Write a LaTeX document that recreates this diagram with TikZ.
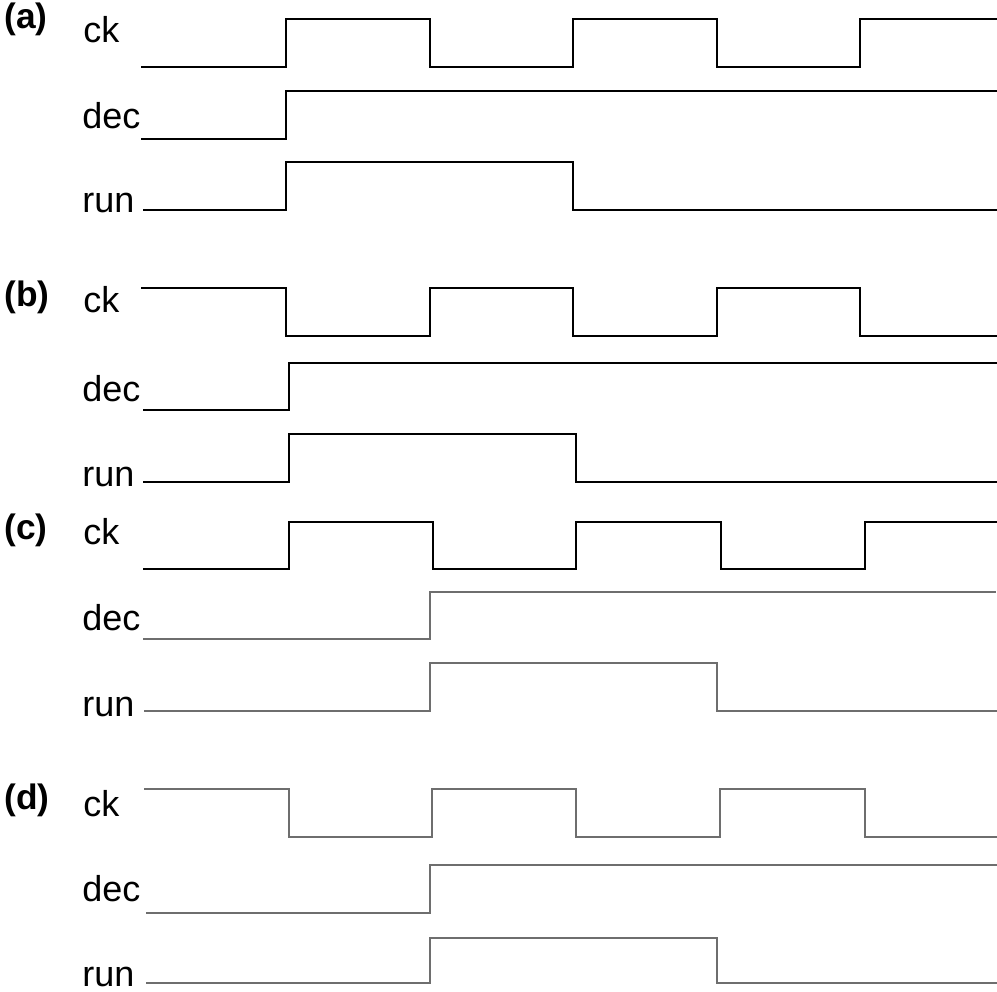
\documentclass[tikz,border=0pt]{standalone}
\usepackage{fontspec}
\setmainfont{Liberation Sans}
\definecolor{wgray}{HTML}{6E6E6E}
\begin{document}
\begin{tikzpicture}[x=0.75pt,y=-0.75pt,
  wave/.style={line width=1.5pt,black},
  gwave/.style={line width=1.5pt,wgray},
  sig/.style={anchor=base west,inner sep=0pt,font=\fontsize{27}{30}\selectfont},
  tag/.style={anchor=base west,inner sep=0pt,font=\fontsize{26.5}{30}\selectfont\bfseries}]
\useasboundingbox (0,0) rectangle (997,992);
% labels
\node[tag] (ta) at (4,28) {(a)};
\node[sig] (ack) at (83,42) {ck};
\node[sig] (adec) at (82,128) {dec};
\node[sig] (arun) at (82,212) {run};
\node[tag] (tb) at (4,306) {(b)};
\node[sig] (bck) at (83,312) {ck};
\node[sig] (bdec) at (82,401) {dec};
\node[sig] (brun) at (82,486) {run};
\node[tag] (tc) at (4,539) {(c)};
\node[sig] (cck) at (83,544) {ck};
\node[sig] (cdec) at (82,630) {dec};
\node[sig] (crun) at (82,716) {run};
\node[tag] (td) at (4,809) {(d)};
\node[sig] (dck) at (83,816) {ck};
\node[sig] (ddec) at (82,901) {dec};
\node[sig] (drun) at (82,986) {run};
% (a)
\draw[wave] (141,67) -- (286,67) -- (286,19) -- (430,19) -- (430,67) -- (573,67) -- (573,19) -- (717,19) -- (717,67) -- (860,67) -- (860,19) -- (997,19);
\draw[wave] (141,139) -- (286,139) -- (286,91) -- (997,91);
\draw[wave] (143,210) -- (286,210) -- (286,162) -- (573,162) -- (573,210) -- (997,210);
% (b)
\draw[wave] (141,288) -- (286,288) -- (286,336) -- (430,336) -- (430,288) -- (573,288) -- (573,336) -- (717,336) -- (717,288) -- (860,288) -- (860,336) -- (997,336);
\draw[wave] (143,410) -- (289,410) -- (289,363) -- (997,363);
\draw[wave] (143,482) -- (289,482) -- (289,434) -- (576,434) -- (576,482) -- (997,482);
% (c)
\draw[wave] (143,569) -- (289,569) -- (289,522) -- (433,522) -- (433,569) -- (576,569) -- (576,522) -- (721,522) -- (721,569) -- (865,569) -- (865,522) -- (997,522);
\draw[gwave] (143,639) -- (430,639) -- (430,592) -- (996,592);
\draw[gwave] (144,711) -- (430,711) -- (430,663) -- (717,663) -- (717,711) -- (997,711);
% (d)
\draw[gwave] (144,789) -- (289,789) -- (289,837) -- (432,837) -- (432,789) -- (576,789) -- (576,837) -- (720,837) -- (720,789) -- (865,789) -- (865,837) -- (997,837);
\draw[gwave] (146,913) -- (430,913) -- (430,865) -- (997,865);
\draw[gwave] (146,983) -- (430,983) -- (430,938) -- (717,938) -- (717,983) -- (997,983);
\end{tikzpicture}
\end{document}
